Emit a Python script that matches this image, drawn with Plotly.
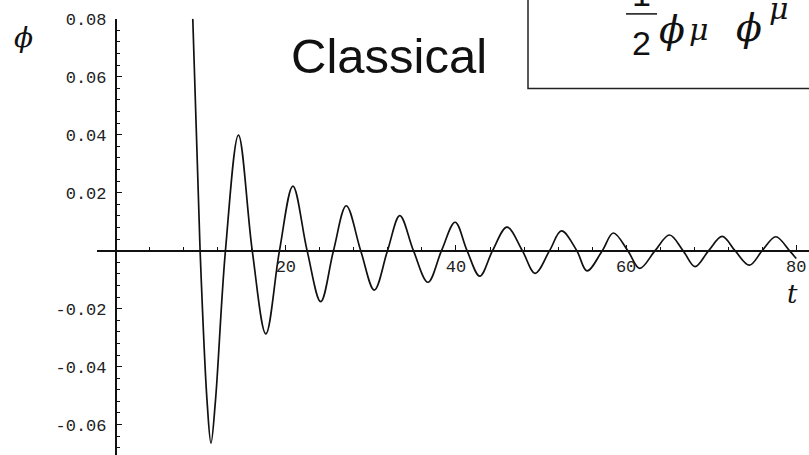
import plotly.graph_objects as go

W, H = 809, 455

# phi(t): readings along the damped oscillation (extrema, zero crossings, steep start)
t_vals = [9.06, 9.92, 10.74, 11.2, 11.72, 12.9,
          14.43, 16.05, 17.65, 19.25, 20.83, 22.5, 24.1,
          25.6, 27.1, 28.8, 30.4, 31.95, 33.4, 35.0, 36.7, 38.3, 39.9,
          41.3, 42.8, 44.3, 46.0, 47.8, 49.3, 51.0, 52.4, 54.2, 55.4,
          57.2, 58.5, 60.2, 61.6, 63.4, 65.1, 66.7, 68.1, 69.7, 71.3,
          72.8, 74.5, 76.0, 77.6, 79.2, 80.0]
phi_vals = [0.08, 0.0, -0.052, -0.0664, -0.052, 0.0,
            0.0399, 0.0, -0.0287, 0.0, 0.0223, 0.0, -0.0176,
            0.0, 0.0155, 0.0, -0.0136, 0.0, 0.0121, 0.0, -0.0109, 0.0, 0.0098,
            0.0, -0.0088, 0.0, 0.0081, 0.0, -0.0078, 0.0, 0.0068, 0.0, -0.0070,
            0.0, 0.0061, 0.0, -0.0061, 0.0, 0.0054, 0.0, -0.0055, 0.0, 0.0049,
            0.0, -0.0050, 0.0, 0.0048, 0.0, -0.0027]

x_tick_vals = [20, 40, 60, 80]
x_tick_text = ["20", "40", "60", "80"]
y_tick_vals = [-0.06, -0.04, -0.02, 0.02, 0.04, 0.06, 0.08]
y_tick_text = ["-0.06", "-0.04", "-0.02", "0.02", "0.04", "0.06", "0.08"]

x_range = [-2.2, 81.5]
y_range = [-0.0705, 0.08]

# plot domains (pixel based) and the paper positions where the axes cross zero
x_dom = [97 / W, 1.0]
y_dom = [0.0, (H - 11) / H]
x_axis_pos = y_dom[0] + (0 - y_range[0]) / (y_range[1] - y_range[0]) * (y_dom[1] - y_dom[0])
y_axis_pos = x_dom[0] + (0 - x_range[0]) / (x_range[1] - x_range[0]) * (x_dom[1] - x_dom[0])


def px(x):
    return x / W


def py(y):
    return 1 - y / H


AX = "#111111"
tick_font = dict(family="Liberation Mono, Courier New, monospace", size=17, color="#222222")

fig = go.Figure()
fig.add_trace(go.Scatter(
    x=t_vals, y=phi_vals, mode="lines",
    line=dict(color="#111111", width=1.7, shape="spline", smoothing=1.0),
    hoverinfo="skip", showlegend=False,
))

fig.update_layout(
    width=W, height=H,
    margin=dict(l=0, r=0, t=0, b=0),
    paper_bgcolor="white", plot_bgcolor="white",
    showlegend=False,
    xaxis=dict(
        domain=x_dom, range=x_range, anchor="free", position=x_axis_pos, side="bottom",
        showline=True, linecolor=AX, linewidth=1.6,
        showgrid=False, zeroline=False,
        tickmode="array", tickvals=x_tick_vals, ticktext=x_tick_text,
        ticks="inside", ticklen=5, tickwidth=1.3, tickcolor=AX,
        tickfont=tick_font,
        minor=dict(ticks="inside", ticklen=3, tickwidth=1.2, tickcolor=AX,
                   tick0=0, dtick=4, showgrid=False),
    ),
    yaxis=dict(
        domain=y_dom, range=y_range, anchor="free", position=y_axis_pos, side="left",
        showline=True, linecolor=AX, linewidth=1.6,
        showgrid=False, zeroline=False,
        tickmode="array", tickvals=y_tick_vals, ticktext=y_tick_text,
        ticks="inside", ticklen=5, tickwidth=1.3, tickcolor=AX,
        tickfont=tick_font, ticklabelstandoff=5,
        minor=dict(ticks="inside", ticklen=3, tickwidth=1.2, tickcolor=AX,
                   tick0=0, dtick=0.004, showgrid=False),
    ),
)


def label(text, x, y, family, size, anchor="center"):
    return dict(text=text, x=px(x), y=py(y), xref="paper", yref="paper",
                xanchor=anchor, yanchor="middle", showarrow=False,
                font=dict(family=family, size=size, color="#111111"))


SERIF = "DejaVu Serif"
SANS = "Liberation Sans, Arial"
annotations = [
    label("<i>ϕ</i>", 23, 30, SERIF, 28),
    label("<i>t</i>", 792, 291, SERIF, 26),
    label("Classical", 289, 49, SANS, 49, anchor="left"),
    # Lagrangian term in the box: (1/2) phi_mu phi^mu
    label("1", 641, -14, SANS, 34),
    label("2", 641, 36, SANS, 34),
    label("<i>ϕ</i>", 672, 22, SERIF, 38),
    label("<i>μ</i>", 699, 22, SERIF, 30),
    label("<i>ϕ</i>", 749, 20, SERIF, 38),
    label("<i>μ</i>", 779, 0, SERIF, 30),
]
fig.update_layout(annotations=annotations)

fig.add_shape(type="rect", xref="paper", yref="paper",
              x0=px(528), x1=px(830), y0=py(82), y1=py(-20),
              line=dict(color="#222222", width=1.5), fillcolor="rgba(0,0,0,0)")
fig.add_shape(type="line", xref="paper", yref="paper",
              x0=px(626), x1=px(657), y0=py(6), y1=py(6),
              line=dict(color="#111111", width=1.5))

fig.write_html("out.html")
